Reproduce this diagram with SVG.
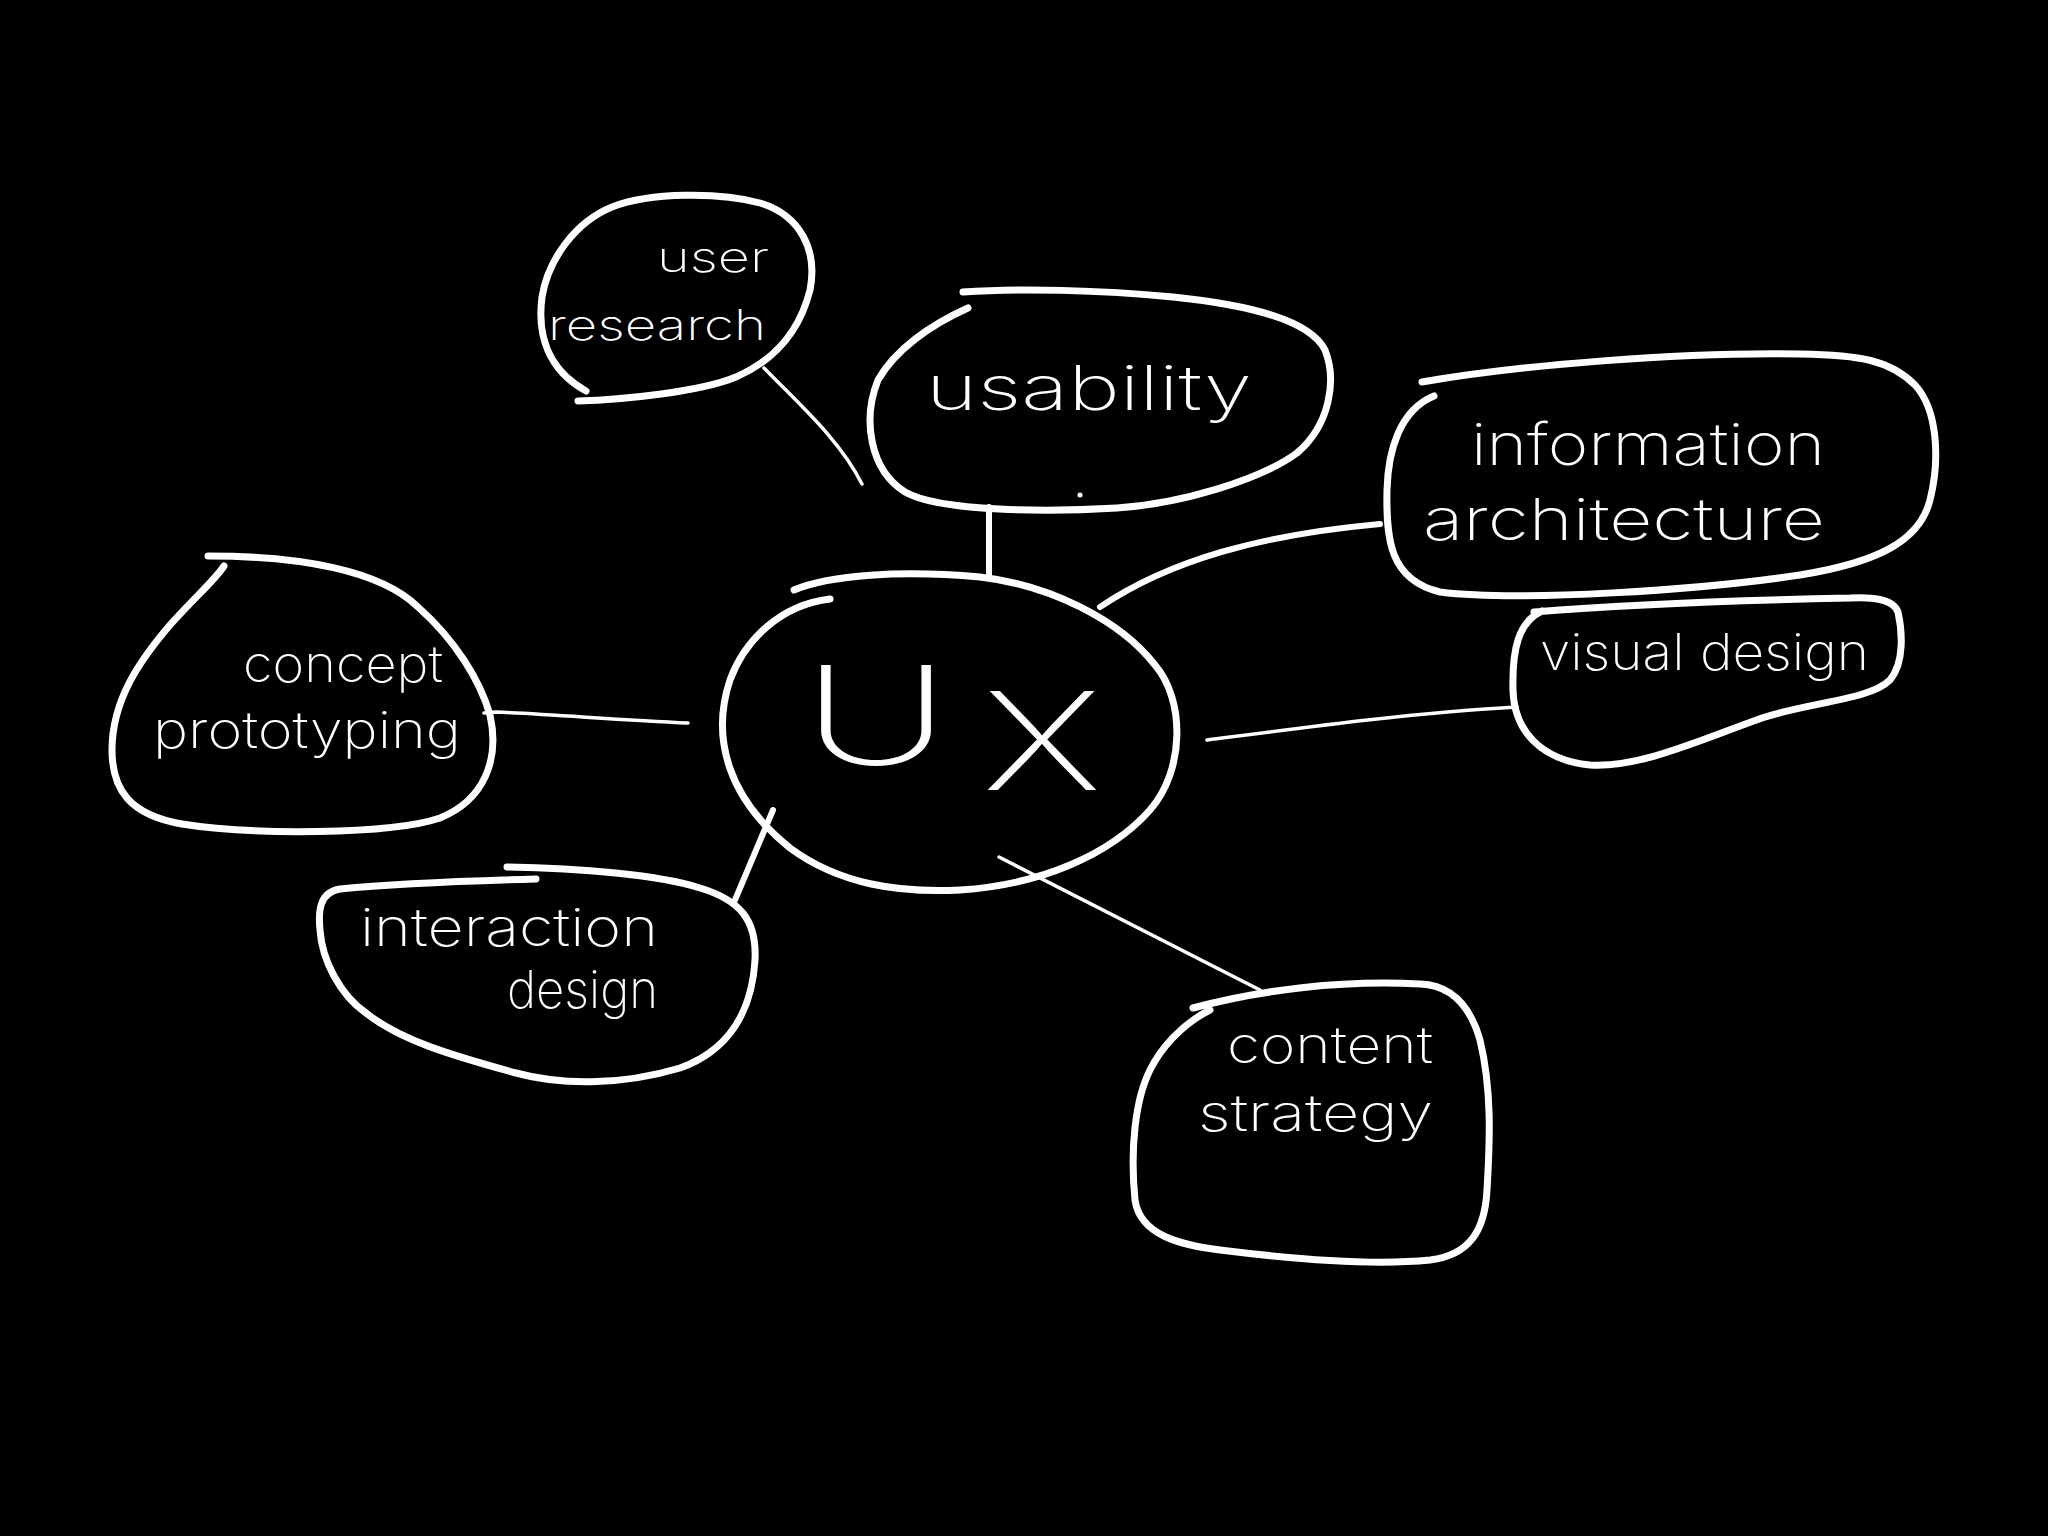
<svg xmlns="http://www.w3.org/2000/svg" width="2048" height="1536" viewBox="0 0 2048 1536">
<style>
.bub{fill:none;stroke:#fff;stroke-width:7;stroke-linecap:round;stroke-linejoin:round}
.ln{fill:none;stroke:#fff;stroke-width:3.5;stroke-linecap:round}
.lnb{fill:none;stroke:#fff;stroke-width:6;stroke-linecap:round}
.t{fill:#fff;font-family:Inter,"Noto Sans","DejaVu Sans",sans-serif;font-weight:250}
.ux{fill:#fff;font-family:Inter,"Noto Sans","DejaVu Sans",sans-serif;font-weight:200;font-size:136px}
</style>
<rect width="2048" height="1536" fill="#000"/>
<g id="connectors">
<path class="ln" d="M764,368 C800,405 840,440 862,484"/>
<path class="lnb" d="M989,507 L989,575"/>
<path class="lnb" d="M1380,524 C1260,535 1170,560 1100,607"/>
<path class="ln" d="M1517,707 C1420,712 1300,728 1207,740"/>
<path class="ln" d="M484,713 L496,712 C560,715 620,720 688,723"/>
<path class="lnb" d="M735,900 L773,810"/>
<path class="ln" d="M999,857 L1260,990"/>
</g>
<g id="ux">
<path class="bub" d="M830,599 C780,605 745,640 730,680 C710,740 730,800 790,848 C840,885 900,893 960,890 C1040,885 1110,855 1150,810 C1185,770 1185,700 1155,665 C1120,620 1050,585 980,577 C900,570 830,575 794,590"/>
<text class="ux"><tspan x="802" y="764" textLength="148" lengthAdjust="spacingAndGlyphs">U</tspan><tspan x="982" y="790" textLength="120" lengthAdjust="spacingAndGlyphs">X</tspan></text>
</g>
<g id="user-research">
<path class="bub" d="M578,401 C620,400 700,392 736,377 C775,360 800,330 810,290 C818,250 800,215 760,203 C720,192 650,192 612,207 C575,222 548,260 542,297 C537,335 548,370 586,391"/>
<text class="t" font-size="42"><tspan x="657" y="272" textLength="112" lengthAdjust="spacingAndGlyphs">user</tspan><tspan x="548" y="340" textLength="218" lengthAdjust="spacingAndGlyphs">research</tspan></text>
</g>
<g id="usability">
<path class="bub" d="M968,308 C930,325 895,350 878,380 C862,420 870,470 905,492 C940,512 1050,512 1117,508 C1180,504 1260,480 1297,453 C1330,425 1337,380 1325,350 C1310,320 1250,305 1173,297 C1100,290 1020,288 963,292"/>
<circle cx="1080" cy="495" r="2.5" fill="#fff"/>
<text class="t" font-size="62" x="926" y="410" textLength="326" lengthAdjust="spacingAndGlyphs">usability</text>
</g>
<g id="information-architecture">
<path class="bub" d="M1434,396 C1400,410 1388,450 1387,490 C1386,540 1390,580 1440,592 C1520,602 1700,590 1800,575 C1880,562 1920,540 1930,500 C1940,460 1938,410 1915,385 C1890,360 1860,355 1800,354 C1680,352 1520,365 1422,382"/>
<text class="t" font-size="58"><tspan x="1471" y="465" textLength="354" lengthAdjust="spacingAndGlyphs">information</tspan><tspan x="1423" y="540" textLength="402" lengthAdjust="spacingAndGlyphs">architecture</tspan></text>
</g>
<g id="visual-design">
<path class="bub" d="M1542,611 C1518,622 1512,650 1513,690 C1514,730 1540,760 1590,765 C1640,768 1700,740 1762,718 C1810,702 1870,700 1890,680 C1905,662 1902,630 1898,612 C1893,598 1870,597 1850,598 C1750,600 1630,604 1534,612"/>
<text class="t" font-size="50" x="1540" y="670" textLength="329" lengthAdjust="spacingAndGlyphs">visual design</text>
</g>
<g id="concept-prototyping">
<path class="bub" d="M208,556 C300,556 380,570 418,607 C455,640 480,680 490,715 C500,760 484,800 440,818 C390,835 250,835 182,824 C130,815 112,790 112,750 C112,700 140,660 170,625 C195,597 215,580 224,566"/>
<text class="t" font-size="50"><tspan x="243" y="682" textLength="200" lengthAdjust="spacingAndGlyphs">concept</tspan><tspan x="153" y="748" textLength="308" lengthAdjust="spacingAndGlyphs">prototyping</tspan></text>
</g>
<g id="interaction-design">
<path class="bub" d="M536,879 C460,881 380,885 340,889 C320,892 318,910 320,930 C322,960 340,995 366,1013 C400,1040 450,1055 516,1073 C560,1085 620,1086 680,1068 C730,1050 752,1010 755,960 C757,920 740,900 700,888 C660,875 580,868 507,867"/>
<text class="t" font-size="52"><tspan x="360" y="946" textLength="298" lengthAdjust="spacingAndGlyphs">interaction</tspan><tspan x="507" y="1008" textLength="151" lengthAdjust="spacingAndGlyphs">design</tspan></text>
</g>
<g id="content-strategy">
<path class="bub" d="M1210,1010 C1180,1025 1160,1050 1150,1070 C1135,1100 1130,1150 1135,1200 C1140,1235 1180,1245 1220,1250 C1300,1260 1380,1265 1430,1260 C1470,1255 1485,1230 1487,1190 C1490,1140 1492,1090 1480,1040 C1470,1005 1450,985 1420,984 C1340,980 1260,990 1193,1008"/>
<text class="t" font-size="50"><tspan x="1227" y="1063" textLength="206" lengthAdjust="spacingAndGlyphs">content</tspan><tspan x="1198" y="1131" textLength="235" lengthAdjust="spacingAndGlyphs">strategy</tspan></text>
</g>
</svg>
